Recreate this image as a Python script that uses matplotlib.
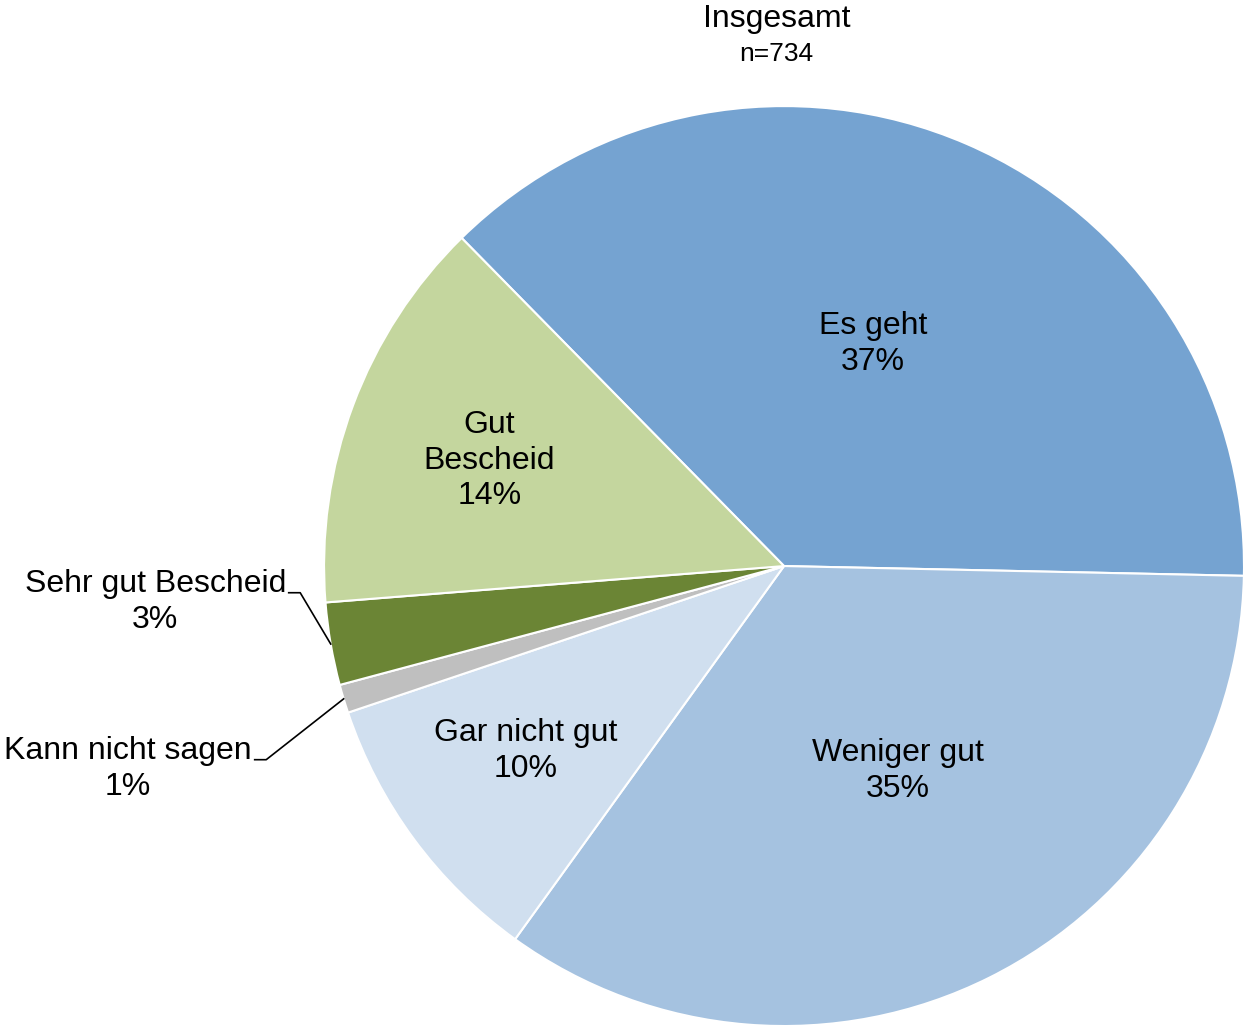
import numpy as np
import matplotlib
matplotlib.use('Agg')
import matplotlib.pyplot as plt

plt.rcParams['font.family'] = ['Liberation Sans', 'DejaVu Sans']

# slice data, clockwise from the upper left boundary
categories = ['Es geht', 'Weniger gut', 'Gar nicht gut', 'Kann nicht sagen',
              'Sehr gut Bescheid', 'Gut Bescheid']
shares = [37.7, 34.6, 9.9, 1.0, 2.9, 13.9]
pct_labels = ['37%', '35%', '10%', '1%', '3%', '14%']
label_text = ['Es geht', 'Weniger gut', 'Gar nicht gut', 'Kann nicht sagen',
              'Sehr gut Bescheid', 'Gut\nBescheid']
colors = ['#75A3D1', '#A5C2E0', '#D0DFEF', '#BFBFBF', '#6B8535', '#C4D69E']

fig = plt.figure(figsize=(12.44, 10.29), dpi=100)
ax = fig.add_axes([0.2605, 0.0029, 0.7395, 0.894])
wedges, _ = ax.pie(shares, colors=colors, startangle=134.5, counterclock=False,
                   radius=1.0, wedgeprops=dict(edgecolor='white', linewidth=1.5))
ax.set_xlim(-1, 1)
ax.set_ylim(-1, 1)
ax.set_aspect('equal')
ax.axis('off')

# inside labels: (distance from centre, angle offset in deg) along the wedge's mid angle
inside_pos = {'Es geht': (0.52, 1.5), 'Weniger gut': (0.51, 2.5),
              'Gar nicht gut': (0.69, -0.8), 'Gut Bescheid': (0.68, 0.8)}
# outside labels: text position in axes data units
outside_pos = {'Sehr gut Bescheid': (-1.367, -0.078), 'Kann nicht sagen': (-1.426, -0.441)}

fs = 23
ls = 1.25
for w, cat, txt, pct in zip(wedges, categories, label_text, pct_labels):
    mid = np.deg2rad((w.theta1 + w.theta2) / 2)
    if cat in inside_pos:
        d, off = inside_pos[cat]
        a = mid + np.deg2rad(off)
        ax.text(d * np.cos(a), d * np.sin(a), txt + '\n' + pct, ha='center', va='center',
                fontsize=fs, linespacing=ls)
    else:
        tx, ty = outside_pos[cat]
        t = ax.text(tx, ty, txt + '\n' + pct, ha='center', va='center', fontsize=fs,
                    linespacing=ls, clip_on=False)
        # leader line from end of first text line to the wedge edge
        fig.canvas.draw()
        bb = t.get_window_extent().transformed(ax.transData.inverted())
        x0 = bb.x1 + 0.006
        y0 = ty + 0.02
        ex, ey = np.cos(mid), np.sin(mid)
        ax.plot([x0, x0 + 0.025, ex], [y0, y0, ey], color='black', lw=1.2, clip_on=False)

fig.text(0.624, 0.982, 'Insgesamt', ha='center', va='center', fontsize=23)
fig.text(0.624, 0.948, 'n=734', ha='center', va='center', fontsize=19)

fig.savefig('out.png', dpi=100)
